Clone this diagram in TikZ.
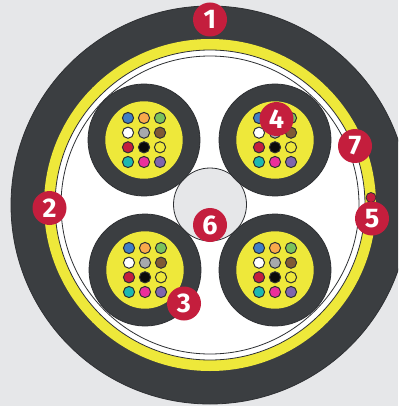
\documentclass[tikz,border=0pt]{standalone}
\usepackage{fontspec}
\setmainfont{Fira Sans}
\definecolor{bgG}{HTML}{E6E7E9}
\definecolor{darkG}{HTML}{3B3E41}
\definecolor{yel}{HTML}{EEE83A}
\definecolor{crim}{HTML}{C41E3D}
\definecolor{lineG}{HTML}{2E3033}
\definecolor{fA}{HTML}{3F7FC4}
\definecolor{fB}{HTML}{F9A94B}
\definecolor{fC}{HTML}{7CC35A}
\definecolor{fE}{HTML}{A7A9AC}
\definecolor{fF}{HTML}{7F5A35}
\definecolor{fH}{HTML}{0A0A0A}
\definecolor{fJ}{HTML}{1CB8B0}
\definecolor{fK}{HTML}{EC2F9B}
\definecolor{fL}{HTML}{7F65AE}
\tikzset{
  disc/.style={circle,inner sep=0pt,outer sep=0pt,minimum size=#1*2pt,line width=0.8pt,draw=lineG},
  badge/.style={circle,fill=crim,inner sep=0pt,minimum size=34pt,text=white,font=\fontsize{27}{27}\selectfont\bfseries},
  fibre/.style={circle,inner sep=0pt,outer sep=0pt,minimum size=11.2pt,line width=1pt,draw=lineG,fill=#1}
}
\newcommand{\fibrebundle}[3]{%
  \node[disc=56,fill=darkG] (#1o) at (#2,#3) {};
  \node[disc=38.7,fill=yel,draw=none] (#1y) at (#2,#3) {};
  \foreach \cx/\cy/\cc in {-16/-22/fA,0/-22/fB,16/-22/fC,
     -16/-7.3/white,0/-7.3/fE,16/-7.3/fF,
     -16/7.3/crim,0/7.3/fH,16/7.3/yel,
     -16/22/fJ,0/22/fK,16/22/fL}{
    \node[fibre=\cc] at (#2+\cx,#3+\cy) {};
  }
}
\begin{document}
\begin{tikzpicture}[x=1pt,y=-1pt]
\useasboundingbox (0,0) rectangle (398,406);
\clip (0,0) rectangle (398,406);
\fill[bgG] (0,0) rectangle (398,406);
\node[disc=199,fill=darkG] (jacket) at (210,205) {};
\node[disc=166,fill=yel,draw=none] (armour) at (210,205) {};
\node[disc=155,fill=white] (wrapA) at (210,205) {};
\node[disc=149,fill=white] (wrapB) at (210,205) {};
\node[disc=36.5,fill=bgG] (core) at (210,204.5) {};
\fibrebundle{tl}{144}{140}
\fibrebundle{tr}{275}{140}
\fibrebundle{bl}{145}{270}
\fibrebundle{br}{275}{270}
\node[circle,inner sep=0pt,minimum size=10pt,fill=crim,draw=lineG,line width=0.8pt] (ripcord) at (371,197.5) {};
\node[badge] (n1) at (210,19.5) {1};
\node[badge] (n2) at (49.5,208) {2};
\node[badge] (n3) at (184,303.5) {3};
\node[badge] (n4) at (276.5,119) {4};
\node[badge] (n5) at (372,218.5) {5};
\node[badge] (n6) at (210,225) {6};
\node[badge] (n7) at (355,146) {7};
\end{tikzpicture}
\end{document}
